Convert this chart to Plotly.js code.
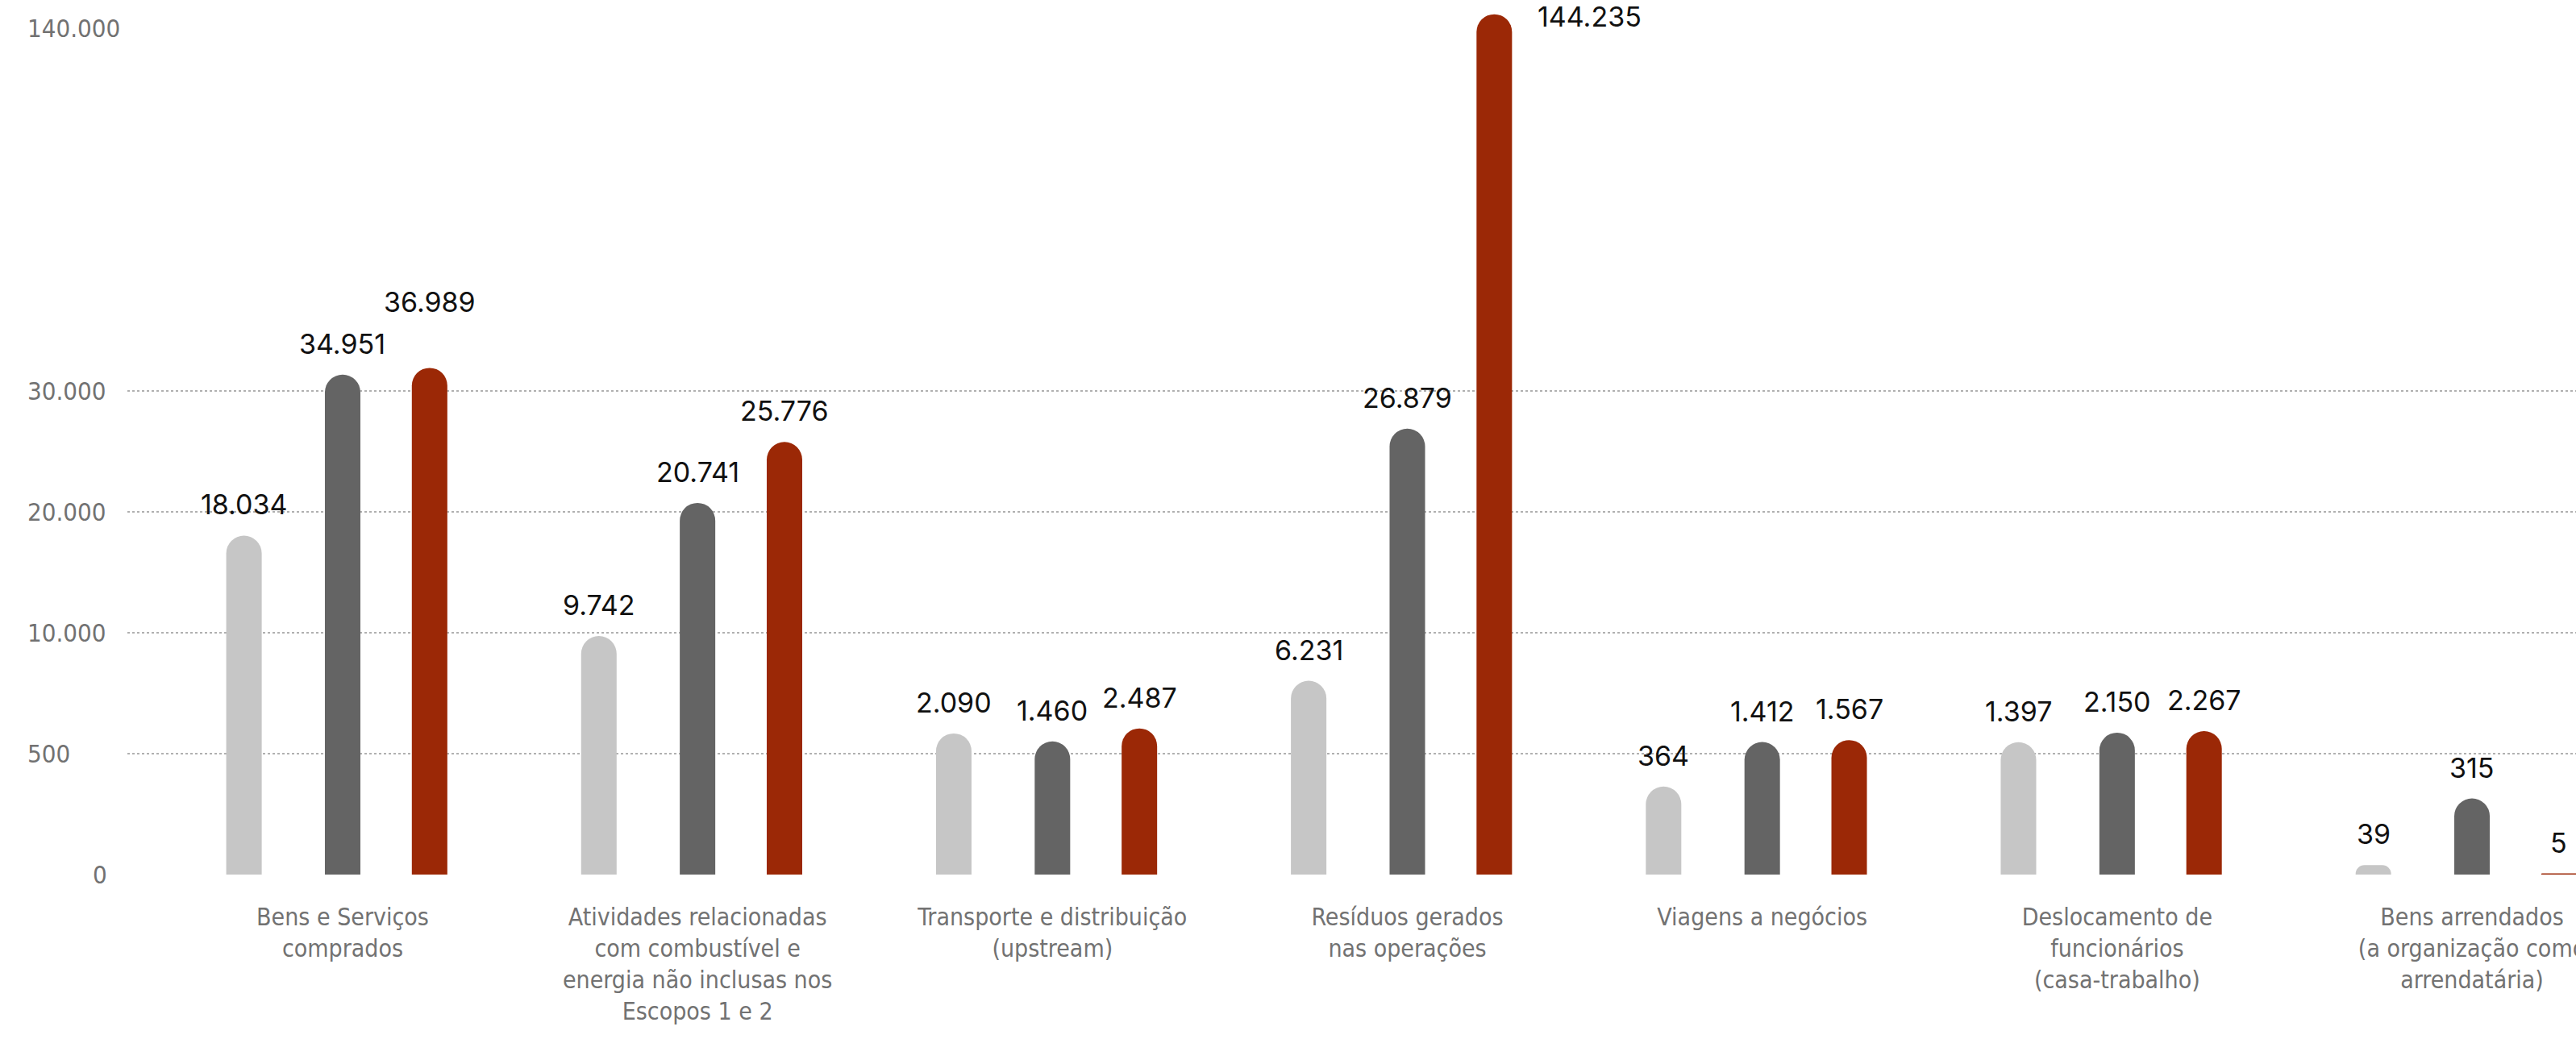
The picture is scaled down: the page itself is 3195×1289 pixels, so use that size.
<!DOCTYPE html>
<html><head><meta charset="utf-8">
<script src="https://cdn.plot.ly/plotly-3.0.1.min.js"></script>
<style>html,body{margin:0;padding:0;background:#fff}#chart{width:3195px;height:1289px}</style>
</head><body><div id="chart"></div>
<script>
// ---- data ----
const categories = [
  'Bens e Serviços<br>comprados',
  'Atividades relacionadas<br>com combustível e<br>energia não inclusas nos<br>Escopos 1 e 2',
  'Transporte e distribuição<br>(upstream)',
  'Resíduos gerados<br>nas operações',
  'Viagens a negócios',
  'Deslocamento de<br>funcionários<br>(casa-trabalho)',
  'Bens arrendados<br>(a organização como<br>arrendatária)'
];
const seriesNames = ['Série 1', 'Série 2', 'Série 3'];
const valuesLight = [18034, 9742, 2090, 6231, 364, 1397, 39];
const valuesDark  = [34951, 20741, 1460, 26879, 1412, 2150, 315];
const valuesRed   = [36989, 25776, 2487, 144235, 1567, 2267, 5];
// broken value axis: tick values and where each sits on the drawn scale
const yTickValues = [0, 500, 10000, 20000, 30000, 140000];
const yTickLabels = ['0', '500', '10.000', '20.000', '30.000', '140.000'];
const yBreakPositions = [0, 1, 2, 3, 4, 7];

// ---- helpers ----
function toAxis(v) {
  for (let k = 1; k < yTickValues.length; k++) {
    if (v <= yTickValues[k] || k === yTickValues.length - 1) {
      const v0 = yTickValues[k-1], v1 = yTickValues[k];
      const p0 = yBreakPositions[k-1], p1 = yBreakPositions[k];
      return p0 + (v - v0) / (v1 - v0) * (p1 - p0);
    }
  }
}
function fmt(n) { return String(n).replace(/\B(?=(\d{3})+(?!\d))/g, '.'); }

const condensed = 'Liberation Sans Narrow, DejaVu Sans Condensed, Arial Narrow, sans-serif';
const labelFont = {family: 'Inter, Noto Sans, sans-serif', size: 34, color: '#111111'};
const Y_MAX = 7.2333;
const BAR_W = 0.1;
const TOP_TICK = yTickValues[yTickValues.length - 1];
const PLOT_H = 1085, PLOT_W = 3195 - 158;
const PX_PER_Y = PLOT_H / Y_MAX;
const PX_PER_X = PLOT_W / (6.293 + 0.6065);

const seriesDefs = [
  {name: seriesNames[0], values: valuesLight, color: '#c6c6c6', center: -0.278},
  {name: seriesNames[1], values: valuesDark,  color: '#646464', center: 0},
  {name: seriesNames[2], values: valuesRed,   color: '#9b2806', center: 0.245}
];
const xIdx = categories.map((_, i) => i);

const traces = seriesDefs.map(s => ({
  type: 'bar',
  name: s.name,
  x: xIdx,
  y: s.values.map(toAxis),
  customdata: s.values,
  offset: s.center - BAR_W / 2,
  width: BAR_W,
  marker: {color: s.color, cornerradius: '50%', line: {width: 0}},
  hovertemplate: '%{customdata}<extra>' + s.name + '</extra>'
}));

function textW(t) { return t.replace(/\./g, '').length * 20.5 + (t.includes('.') ? 9 : 0); }

const annotations = [];
xIdx.forEach(i => {
  let prev = null; // previous label in this group: {xc, w, yb}
  seriesDefs.forEach(s => {
    const v = s.values[i];
    const ya = toAxis(v);
    const txt = fmt(v);
    if (v > TOP_TICK) {
      // off-scale bar: label beside it, at the top of the chart
      annotations.push({
        x: i + s.center + BAR_W / 2, xref: 'x', xanchor: 'left', xshift: 30,
        y: 1, yref: 'paper', yanchor: 'top', yshift: 2,
        text: txt, showarrow: false, font: labelFont
      });
      prev = null;
      return;
    }
    const xc = (i + s.center) * PX_PER_X;
    const w = textW(txt);
    let yb = ya * PX_PER_Y + 16; // label bottom, px above axis
    if (prev && Math.abs(xc - prev.xc) < (w + prev.w) / 2 + 6 && Math.abs(yb - prev.yb) < 48) {
      yb = prev.yb + 52; // lift to avoid overlapping neighbour
    }
    annotations.push({
      x: i + s.center, xref: 'x', xanchor: 'center',
      y: ya, yref: 'y', yanchor: 'bottom', yshift: yb - ya * PX_PER_Y,
      text: txt, showarrow: false, font: labelFont
    });
    prev = {xc, w, yb};
  });
});
// y tick labels
yTickValues.forEach((v, k) => {
  const isZero = v === 0;
  annotations.push({
    x: isZero ? -0.0075 : -0.0415, xref: 'paper', xanchor: isZero ? 'right' : 'left',
    y: yBreakPositions[k], yref: 'y', yanchor: 'middle',
    text: yTickLabels[k], showarrow: false,
    font: {family: condensed, size: 31, color: '#727272'}
  });
});

const layout = {
  width: 3195, height: 1289,
  margin: {l: 158, r: 0, t: 0, b: 204, pad: 0},
  paper_bgcolor: '#ffffff', plot_bgcolor: '#ffffff',
  showlegend: false,
  barmode: 'overlay',
  xaxis: {
    type: 'linear', range: [-0.6065, 6.293],
    tickvals: xIdx, ticktext: categories, tickangle: 0,
    tickfont: {family: condensed, size: 30, color: '#727272'},
    showgrid: false, zeroline: false, showline: false, ticks: '',
    ticklabelstandoff: 32, ticklabeloverflow: 'allow', fixedrange: true
  },
  yaxis: {
    range: [0, Y_MAX], tickvals: yBreakPositions.slice(0, -1), showticklabels: false,
    showgrid: true, gridcolor: '#b0b0b0', griddash: 'dot', gridwidth: 1.5,
    zeroline: false, showline: false, ticks: '', fixedrange: true
  },
  annotations: annotations
};

Plotly.newPlot('chart', traces, layout, {displayModeBar: false, staticPlot: true});
</script>
</body></html>
